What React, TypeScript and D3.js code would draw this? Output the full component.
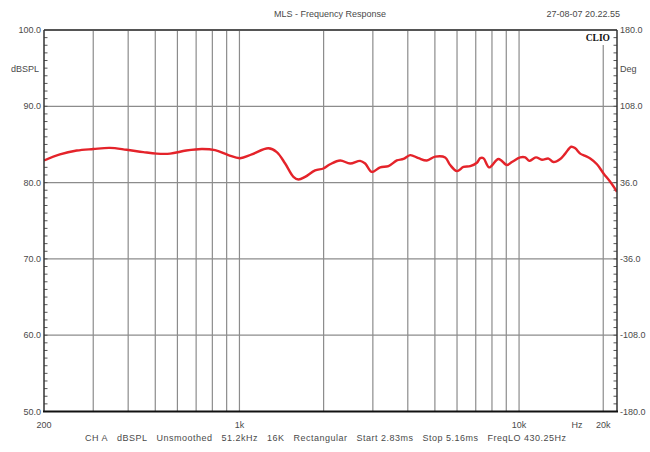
import React from 'react';
import * as d3 from 'd3';

// ---- data ----
const FREQS = [200, 228, 262, 300, 344, 395, 453, 506, 565, 645, 733, 818, 913, 1005, 1107, 1269, 1360, 1457, 1560, 1625, 1717, 1865, 1996, 2110, 2292, 2488, 2702, 2816, 2976, 3187, 3412, 3656, 3860, 4079, 4368, 4680, 5012, 5442, 5671, 5994, 6328, 6688, 7066, 7261, 7460, 7818, 8444, 9049, 9428, 10094, 10520, 10870, 11488, 12072, 12746, 13282, 14038, 14622, 15364, 15880, 16548, 17244, 17970, 18990, 20050, 21180, 22400];
const SPL = [82.9, 83.7, 84.2, 84.4, 84.55, 84.3, 84.0, 83.8, 83.8, 84.2, 84.4, 84.25, 83.6, 83.2, 83.7, 84.5, 84.0, 82.5, 80.75, 80.4, 80.75, 81.6, 81.85, 82.4, 82.9, 82.5, 82.85, 82.5, 81.4, 82.0, 82.15, 82.9, 83.1, 83.6, 83.2, 82.9, 83.4, 83.3, 82.3, 81.5, 82.05, 82.15, 82.6, 83.2, 83.2, 82.0, 83.1, 82.3, 82.7, 83.3, 83.3, 82.85, 83.3, 83.0, 83.15, 82.7, 83.1, 83.8, 84.7, 84.5, 83.8, 83.5, 83.15, 82.4, 81.2, 80.1, 78.8];

const DB_TICKS = [50, 60, 70, 80, 90, 100];
const DEG_TICKS = [-180, -108, -36, 36, 108, 180];
const X_GRID = [300, 400, 500, 600, 700, 800, 900, 1000, 2000, 3000, 4000, 5000, 6000, 7000, 8000, 9000, 10000, 20000];
const X_LABEL_FREQS = [200, 1000, 10000, 20000];
const X_LABEL_TEXTS = ['200', '1k', '10k', '20k'];
const FOOTER_ITEMS = ['CH A', 'dBSPL', 'Unsmoothed', '51.2kHz', '16K', 'Rectangular', 'Start 2.83ms', 'Stop 5.16ms', 'FreqLO 430.25Hz'];

const W = 650, H = 452;
const L = 44, R = 617, T = 30, B = 411.5;
const FONT = '"Liberation Sans", Arial, sans-serif';
const TXT = '#4a4a4a';

export default function App() {
  const x = d3.scaleLog().domain([200, 22400]).range([L, R]);
  const y = d3.scaleLinear().domain([50, 100]).range([B, T]);
  const yDeg = d3.scaleLinear().domain([-180, 180]).range([B, T]);
  const minor = d3.range(50, 101, 1);
  const line = d3.line<number>()
    .x((_, i) => x(FREQS[i]))
    .y((d) => y(d))
    .curve(d3.curveCatmullRom.alpha(0.5));

  const footer = FOOTER_ITEMS.join('\u00a0\u00a0\u00a0');

  return (
    <svg width={W} height={H} style={{ position: 'absolute', left: 0, top: 0, background: '#fff' }} fontFamily={FONT}>
      <rect x={0} y={0} width={W} height={H} fill="#fff" />
      <defs>
        <clipPath id="plot"><rect x={L} y={T} width={R - L} height={B - T} /></clipPath>
      </defs>
      {/* title */}
      <text x={330} y={16.5} textAnchor="middle" fontSize={9} fill={TXT}>MLS - Frequency Response</text>
      <text x={620} y={16.5} textAnchor="end" fontSize={9} fill={TXT}>27-08-07 20.22.55</text>

      {/* horizontal grid */}
      {DB_TICKS.filter((d) => d > 50 && d < 100).map((d) => (
        <line key={'h' + d} x1={L} x2={R} y1={y(d)} y2={y(d)} stroke="#8c8c8c" strokeWidth={1.2} />
      ))}
      {/* vertical grid */}
      {X_GRID.map((f) => (
        <line key={'v' + f} x1={x(f)} x2={x(f)} y1={f === 20000 ? 45 : T} y2={B} stroke="#8c8c8c" strokeWidth={1.2} />
      ))}

      {/* minor ticks */}
      {minor.map((d) => (
        <line key={'ml' + d} x1={L} x2={L + 3.5} y1={y(d)} y2={y(d)} stroke="#555" strokeWidth={1} />
      ))}
      {minor.map((d) => (
        <line key={'mr' + d} x1={R - 3.5} x2={R} y1={y(d)} y2={y(d)} stroke="#555" strokeWidth={1} />
      ))}

      {/* curve */}
      <path d={line(SPL) || ''} fill="none" stroke="#e4232a" strokeWidth={2.4} strokeLinejoin="round" clipPath="url(#plot)" />

      {/* frame */}
      <line x1={L} x2={R} y1={T} y2={T} stroke="#555" strokeWidth={2.2} />
      <line x1={L} x2={L} y1={T} y2={B} stroke="#333" strokeWidth={1.5} />
      <line x1={R} x2={R} y1={T} y2={B} stroke="#333" strokeWidth={1.5} />
      <line x1={L - 1} x2={R + 1} y1={B} y2={B} stroke="#111" strokeWidth={2.2} />

      {/* CLIO logo */}
      <text x={610} y={41} textAnchor="end" fontSize={9.5} fontWeight="bold" fill="#111" fontFamily='"Liberation Serif", serif'>CLIO</text>

      {/* left axis labels */}
      {DB_TICKS.map((d) => (
        <text key={'ld' + d} x={41} y={y(d)} dy="0.35em" textAnchor="end" fontSize={9} fill={TXT}>{d.toFixed(1)}</text>
      ))}
      <text x={39} y={69} dy="0.35em" textAnchor="end" fontSize={9} fill={TXT}>dBSPL</text>

      {/* right axis labels */}
      {DEG_TICKS.map((d) => (
        <text key={'rd' + d} x={620} y={yDeg(d)} dy="0.35em" textAnchor="start" fontSize={9} fill={TXT}>{d.toFixed(1)}</text>
      ))}
      <text x={620} y={69} dy="0.35em" textAnchor="start" fontSize={9} fill={TXT}>Deg</text>

      {/* bottom labels */}
      {X_LABEL_FREQS.map((f, i) => (
        <text key={'xl' + f} x={x(f)} y={425} dy="0.35em" textAnchor="middle" fontSize={9} fill={TXT}>{X_LABEL_TEXTS[i]}</text>
      ))}
      <text x={577} y={425} dy="0.35em" textAnchor="middle" fontSize={9} fill={TXT}>Hz</text>

      <text x={85} y={438} dy="0.35em" textAnchor="start" fontSize={9} fill={TXT} textLength={481} lengthAdjust="spacing">{footer}</text>
    </svg>
  );
}
